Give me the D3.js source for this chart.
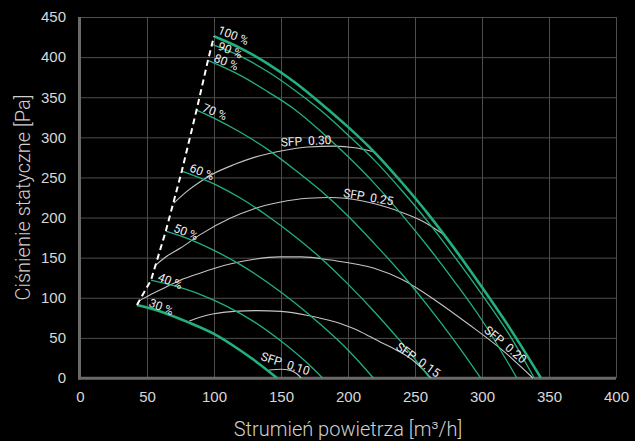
<!DOCTYPE html>
<html>
<head>
<meta charset="utf-8">
<script src="https://cdn.jsdelivr.net/npm/d3@7"></script>
<style>
    body { margin: 0; background: #000; }
    svg { display: block; font-family: Roboto, "Noto Sans", sans-serif; }
</style>
</head>
<body>
<svg id="root" width="635" height="441"></svg>
<script>
// axis ticks
const flowTicks = [0, 50, 100, 150, 200, 250, 300, 350, 400];
const pressureTicks = [0, 50, 100, 150, 200, 250, 300, 350, 400, 450];

// fan curves, [flow m3/h, pressure Pa]
const fanLabels = ["30 %", "40 %", "50 %", "60 %", "70 %", "80 %", "90 %", "100 %"];
const fan30 = [[42.5, 91], [60, 83], [80, 70], [100, 55], [120, 34], [135, 16], [147, 0]];
const fan40 = [[53, 122], [70, 115], [90, 104], [110, 89], [130, 70], [150, 46], [170, 18], [181, 0]];
const fan50 = [[64, 183], [80, 174], [100, 159], [120, 141], [140, 119], [160, 94], [180, 66], [200, 35], [219, 0]];
const fan60 = [[76, 258], [100, 242], [120, 224], [140, 202], [160, 177], [180, 149], [200, 117], [220, 82], [240, 44], [261, 0]];
const fan70 = [[87, 334], [100, 324], [120, 306], [140, 285], [160, 260], [180, 233], [200, 202], [220, 167], [240, 130], [260, 89], [280, 45], [299, 0]];
const fan80 = [[95.5, 396], [120, 377], [140, 357], [160, 335], [180, 307], [200, 276], [220, 242], [240, 204], [260, 163], [280, 119], [300, 72], [326, 0]];
const fan90 = [[98.5, 416], [120, 401], [140, 382], [160, 359], [180, 333], [200, 303], [220, 271], [240, 234], [260, 194], [280, 150], [300, 104], [320, 55], [339, 0]];
const fan100 = [[100, 426], [120, 411], [140, 392], [160, 369], [180, 342], [200, 313], [220, 281], [240, 244], [260, 204], [280, 160], [300, 113], [320, 64], [344, 0]];

// SFP curves
const sfpLabels = ["SFP  0.10", "SFP  0.15", "SFP  0.20", "SFP  0.25", "SFP  0.30"];
const sfp010 = [[141, 10], [150, 11], [157, 9.5], [162, 5], [165, 0]];
const sfp015 = [[81.6, 71], [90, 76], [100, 80], [115, 83], [132, 84], [150, 83], [170, 78], [190, 70], [205, 61], [216, 52], [224, 45], [236, 35], [250, 20], [262, 0]];
const sfp020 = [[45, 97], [55, 106], [65, 114], [75, 122], [90, 131], [112, 142], [130, 148], [149, 151], [165, 151], [187, 147], [219, 137], [240, 123], [265, 97], [290, 67], [315, 35], [338, 0]];
const sfp025 = [[56.7, 141], [65, 152], [75, 162], [90, 179], [112, 199], [130, 211], [149, 219], [170, 224], [187, 225], [210, 221], [236, 209], [255, 196], [273, 177]];
const sfp030 = [[70, 218], [80, 233], [90, 245], [100, 255], [115, 266], [130, 275], [150, 283], [170, 288], [190, 289], [205, 287], [219, 282]];

const main = () => {
    const svg = d3.select("#root");

    const margin = { top: 17, left: 80, bottom: 63, right: 19 };
    const dimensions = { width: 635, height: 441 };
    const green = "#22b07d";

    const flowScale = d3
        .scaleLinear()
        .domain([0, 400])
        .range([margin.left, dimensions.width - margin.right]);
    const pressureScale = d3
        .scaleLinear()
        .domain([0, 450])
        .range([dimensions.height - margin.bottom, margin.top]);

    const plotW = dimensions.width - margin.left - margin.right;
    const plotH = dimensions.height - margin.top - margin.bottom;

    // grid + tick labels
    svg.append("g")
        .attr("transform", `translate(0, ${dimensions.height - margin.bottom})`)
        .call(d3.axisBottom(flowScale).tickValues(flowTicks).tickSize(-plotH).tickPadding(13))
        .call((g) => g.select(".domain").remove())
        .call((g) => g.selectAll(".tick line").attr("stroke", "#4e4e4e"))
        .call((g) =>
            g.selectAll("text").attr("fill", "#d8d8d8").style("font-size", "15px").attr("font-family", null)
        );

    svg.append("g")
        .attr("transform", `translate(${margin.left}, 0)`)
        .call(d3.axisLeft(pressureScale).tickValues(pressureTicks).tickSize(-plotW).tickPadding(14))
        .call((g) => g.select(".domain").remove())
        .call((g) => g.selectAll(".tick line").attr("stroke", "#4e4e4e"))
        .call((g) =>
            g.selectAll("text").attr("fill", "#d8d8d8").style("font-size", "15px").attr("font-family", null)
        );

    // thick axis lines
    svg.append("line")
        .attr("x1", flowScale(0) - 0.5).attr("x2", flowScale(0) - 0.5)
        .attr("y1", pressureScale(450)).attr("y2", pressureScale(0) + 1.5)
        .attr("stroke", "#6a6a6a").attr("stroke-width", 3);
    svg.append("line")
        .attr("x1", flowScale(0) - 2).attr("x2", flowScale(400))
        .attr("y1", pressureScale(0) + 0.3).attr("y2", pressureScale(0) + 0.3)
        .attr("stroke", "#6a6a6a").attr("stroke-width", 3);

    const line = d3
        .line()
        .x((d) => flowScale(d[0]))
        .y((d) => pressureScale(d[1]))
        .curve(d3.curveMonotoneX);

    // SFP curves
    const sfpCurves = [sfp010, sfp015, sfp020, sfp025, sfp030];
    svg.append("g")
        .selectAll("path")
        .data(sfpCurves)
        .join("path")
        .attr("d", line)
        .attr("fill", "none")
        .attr("stroke", "#c4c4c4")
        .attr("stroke-width", 1.1);

    // fan curves
    const fanCurves = [fan30, fan40, fan50, fan60, fan70, fan80, fan90, fan100];
    svg.append("g")
        .selectAll("path")
        .data(fanCurves)
        .join("path")
        .attr("d", line)
        .attr("fill", "none")
        .attr("stroke", green)
        .attr("stroke-width", (d, i) => (i == 0 || i == fanCurves.length - 1 ? 2.6 : 1.3));

    // min flow limit, dashed through curve starts
    svg.append("path")
        .datum(fanCurves.map((c) => c[0]))
        .attr("d", d3.line().x((d) => flowScale(d[0])).y((d) => pressureScale(d[1])))
        .attr("fill", "none")
        .attr("stroke", "#fff")
        .attr("stroke-width", 2)
        .attr("stroke-dasharray", "6,4");

    // speed labels
    const pctOffset = [[11, 1], [6, 0], [7, 0], [7, 0], [5, 1], [5, 1], [5, 5], [3, -3]];
    svg.append("g")
        .selectAll("text")
        .data(fanCurves)
        .join("text")
        .attr("transform", (d, i) =>
            `translate(${flowScale(d[0][0]) + pctOffset[i][0]}, ${pressureScale(d[0][1]) + pctOffset[i][1]}) rotate(22)`
        )
        .attr("fill", "#eeeeee")
        .style("font-size", "12px")
        .style("white-space", "pre")
        .text((d, i) => fanLabels[i]);

    // SFP labels: [flow, pressure, angle]
    const sfpSpot = [[134.3, 22.7, 18], [235, 36.5, 35], [301, 58, 40], [196, 226, 10], [150, 288.6, -3]];
    svg.append("g")
        .selectAll("text")
        .data(sfpSpot)
        .join("text")
        .attr("transform", (d) => `translate(${flowScale(d[0])}, ${pressureScale(d[1])}) rotate(${d[2]})`)
        .attr("fill", "#eeeeee")
        .style("font-size", "12px")
        .style("white-space", "pre")
        .text((d, i) => sfpLabels[i]);

    // axis titles
    svg.append("text")
        .attr("x", margin.left + plotW / 2)
        .attr("y", 436)
        .attr("text-anchor", "middle")
        .attr("fill", "#d0d0d0")
        .style("font-size", "20px")
        .style("font-weight", 300)
        .text("Strumień powietrza [m³/h]");

    svg.append("text")
        .attr("transform", `translate(30, ${margin.top + plotH / 2}) rotate(-90)`)
        .attr("text-anchor", "middle")
        .attr("fill", "#d0d0d0")
        .style("font-size", "20px")
        .style("font-weight", 300)
        .text("Ciśnienie statyczne [Pa]");
};

main();
</script>
</body>
</html>
